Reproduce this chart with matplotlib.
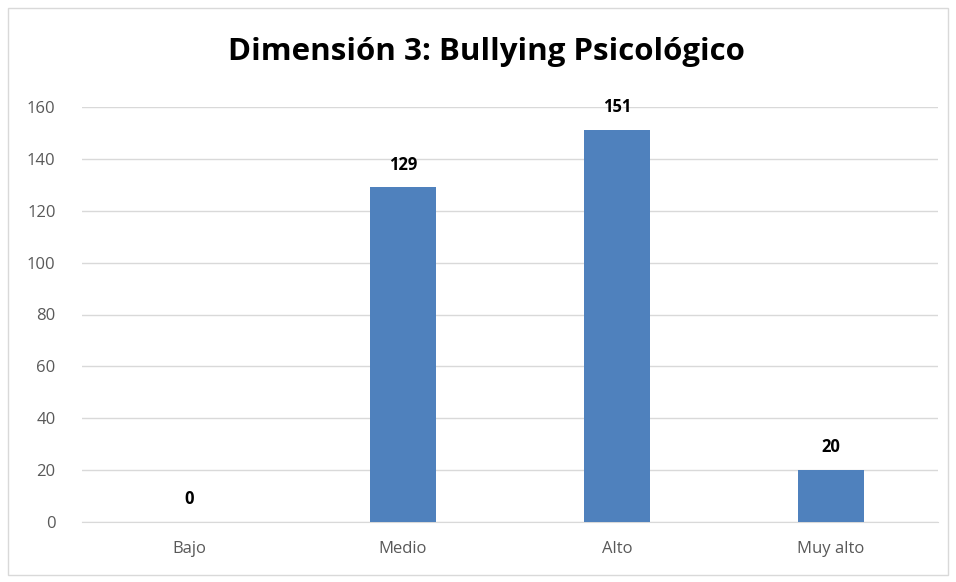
import matplotlib
matplotlib.use("Agg")
import matplotlib.pyplot as plt
from matplotlib.patches import Rectangle

categories = ["Bajo", "Medio", "Alto", "Muy alto"]
values = [0, 129, 151, 20]
yticks = [0, 20, 40, 60, 80, 100, 120, 140, 160]
title = "Dimensión 3: Bullying Psicológico"

plt.rcParams['font.family'] = ['Open Sans', 'DejaVu Sans']

W, H = 956, 582
fig = plt.figure(figsize=(W/100, H/100), dpi=100)
fig.patches.append(Rectangle((8/W, 1-575/H), 940/W, 567/H, transform=fig.transFigure,
                             fill=False, edgecolor="#d9d9d9", linewidth=1))
ax = fig.add_axes([82/W, 1-522/H, 856/W, 415/H])
x = range(len(categories))
bars = ax.bar(x, values, width=0.31, color="#4f81bd", zorder=3)
ax.set_xlim(-0.5, len(categories)-0.5)
ax.set_ylim(0, 160)
ax.set_yticks(yticks)
ax.set_xticks(list(x))
ax.set_xticklabels(categories)
ax.grid(axis="y", color="#d9d9d9", linewidth=1, zorder=0)
for s in ["top", "right", "left"]:
    ax.spines[s].set_visible(False)
ax.spines["bottom"].set_color("#d9d9d9")
ax.tick_params(axis="both", length=0, labelsize=12, labelcolor="#595959")
ax.tick_params(axis="x", pad=14)
ax.tick_params(axis="y", pad=19)
for xi, v in zip(x, values):
    ax.annotate(str(v), (xi, v), xytext=(0, 10), textcoords="offset points",
                ha="center", va="bottom", fontsize=12, fontweight="bold", color="#000000")
fig.text(486/W, 1-52/H, title, ha="center", va="center", fontsize=22.5, fontweight="bold", color="#000000")
fig.savefig("out.png", dpi=100)
